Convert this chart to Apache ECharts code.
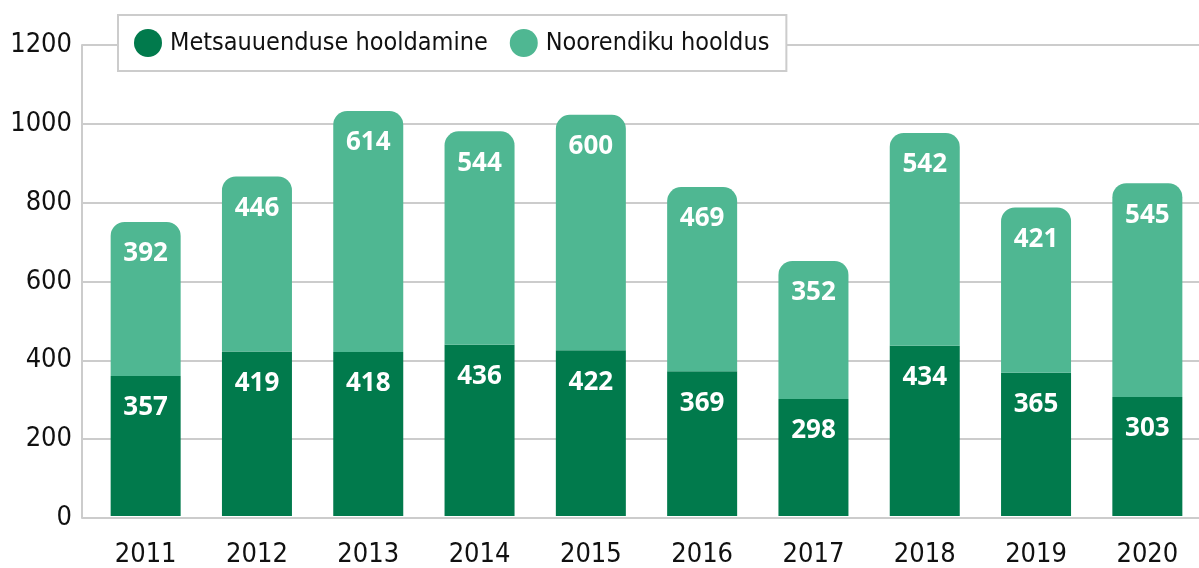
<!DOCTYPE html>
<html>
<head>
<meta charset="utf-8">
<script src="https://cdn.jsdelivr.net/npm/echarts@6/dist/echarts.min.js"></script>
<style>
html, body { margin: 0; padding: 0; background: #fff; overflow: hidden; }
#chart { width: 1210px; height: 568px; }
</style>
</head>
<body>
<div id="chart"></div>
<script>
var years = ['2011', '2012', '2013', '2014', '2015', '2016', '2017', '2018', '2019', '2020'];
var metsauuendus = [357, 419, 418, 436, 422, 369, 298, 434, 365, 303];
var noorendik = [392, 446, 614, 544, 600, 469, 352, 542, 421, 545];
var yTicks = { min: 0, max: 1200, interval: 200 };

var darkGreen = '#017a4c';
var lightGreen = '#4fb792';
var gridGrey = '#cccccc';
var narrow = '"DejaVu Sans Condensed", "Liberation Sans Narrow", sans-serif';

var chart = echarts.init(document.getElementById('chart'), null, {renderer: 'canvas'});

var barLabel = {
    show: true,
    position: 'insideTop',
    distance: 19,
    color: '#fff',
    fontFamily: '"Noto Sans", sans-serif',
    fontWeight: 'bold',
    fontSize: 26
};

chart.setOption({
    animation: false,
    legend: {
        left: 118,
        top: 15,
        padding: [14, 17, 14, 16],
        itemWidth: 28,
        itemHeight: 28,
        itemGap: 22,
        icon: 'circle',
        backgroundColor: '#fff',
        borderColor: gridGrey,
        borderWidth: 2,
        textStyle: { fontFamily: narrow, fontSize: 25, color: '#111', padding: [4, 0, 0, 3] },
        data: ['Metsauuenduse hooldamine', 'Noorendiku hooldus']
    },
    grid: [
        { left: 90, width: 1113, top: 45, bottom: 50 },
        { left: 82, width: 1117, top: 45, bottom: 50 }
    ],
    xAxis: [
        {
            type: 'category',
            gridIndex: 0,
            data: years,
            axisLine: { show: false },
            axisTick: { show: false },
            axisLabel: { fontFamily: narrow, fontSize: 27, color: '#111', margin: 25 }
        },
        { type: 'value', gridIndex: 1, min: 0, max: 1, show: false }
    ],
    yAxis: [
        {
            type: 'value',
            gridIndex: 0,
            min: yTicks.min,
            max: yTicks.max,
            interval: yTicks.interval,
            show: false
        },
        {
            type: 'value',
            gridIndex: 1,
            min: yTicks.min,
            max: yTicks.max,
            interval: yTicks.interval,
            axisLine: { show: true, lineStyle: { color: gridGrey, width: 2 } },
            axisTick: { show: false },
            splitLine: { lineStyle: { color: gridGrey, width: 2 } },
            axisLabel: {
                fontFamily: narrow, fontSize: 27, color: '#111', margin: 10,
                formatter: function (v) { return String(v); }
            }
        }
    ],
    series: [
        {
            name: 'Metsauuenduse hooldamine',
            type: 'bar',
            stack: 'total',
            xAxisIndex: 0,
            yAxisIndex: 0,
            barWidth: 70,
            data: metsauuendus,
            itemStyle: { color: darkGreen },
            label: barLabel,
            z: 3
        },
        {
            name: 'Noorendiku hooldus',
            type: 'bar',
            stack: 'total',
            xAxisIndex: 0,
            yAxisIndex: 0,
            barWidth: 70,
            data: noorendik,
            itemStyle: { color: lightGreen, borderRadius: [14, 14, 0, 0] },
            label: barLabel,
            z: 3
        }
    ]
});
</script>
</body>
</html>
